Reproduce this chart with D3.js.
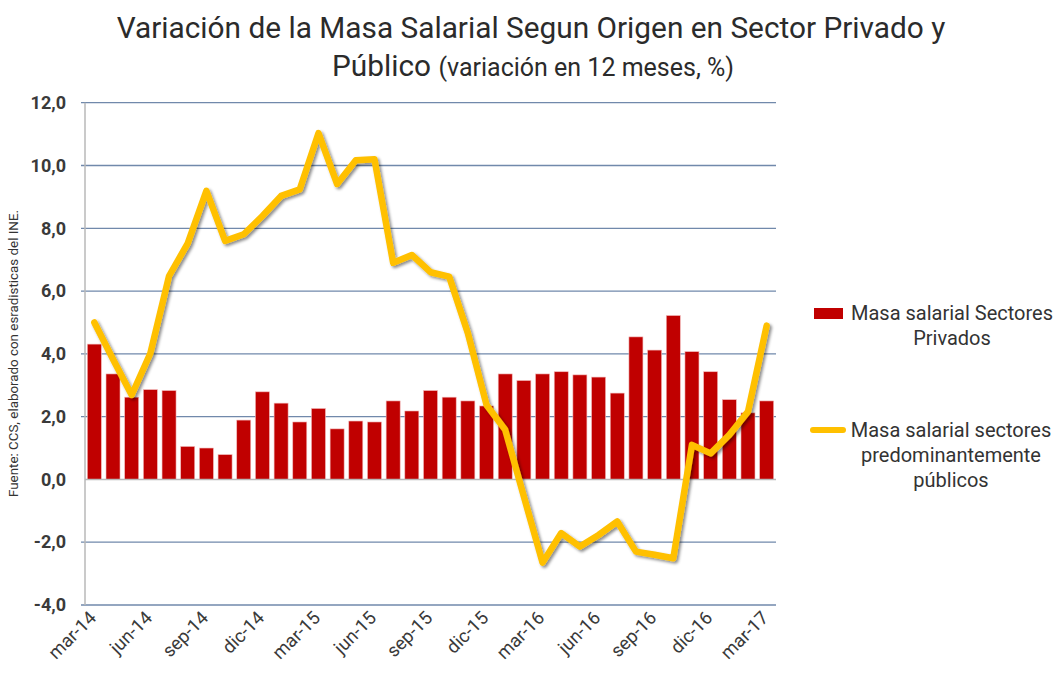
<!DOCTYPE html>
<html lang="es">
<head>
<meta charset="UTF-8">
<title>Variación de la Masa Salarial</title>
<script src="https://d3js.org/d3.v7.min.js"></script>
<style>
  html, body { margin: 0; padding: 0; background: #fff; }
  svg { display: block; font-family: Roboto, "DejaVu Sans", sans-serif; }
  .grid line { stroke: #7189ab; stroke-width: 1.3; }
  .ylab { font-size: 18px; font-weight: 700; fill: #3a3a3a; }
  .xlab { font-size: 18.5px; fill: #3a3a3a; }
  .legend text { font-size: 20px; fill: #333; }
</style>
</head>
<body>
<svg id="chart" width="1062" height="683"></svg>
<script>
// --- data ---
const months = ["mar-14","abr-14","may-14","jun-14","jul-14","ago-14","sep-14","oct-14","nov-14","dic-14",
  "ene-15","feb-15","mar-15","abr-15","may-15","jun-15","jul-15","ago-15","sep-15","oct-15","nov-15","dic-15",
  "ene-16","feb-16","mar-16","abr-16","may-16","jun-16","jul-16","ago-16","sep-16","oct-16","nov-16","dic-16",
  "ene-17","feb-17","mar-17"];
const privados = [4.31, 3.36, 2.62, 2.86, 2.83, 1.05, 1.0, 0.79, 1.89, 2.79,
  2.43, 1.83, 2.26, 1.61, 1.86, 1.83, 2.5, 2.18, 2.83, 2.62,
  2.5, 2.34, 3.36, 3.15, 3.36, 3.43, 3.33, 3.26, 2.75, 4.54,
  4.12, 5.22, 4.07, 3.43, 2.54, 2.12, 2.5];
const publicos = [5.0, 3.83, 2.69, 4.02, 6.48, 7.52, 9.19, 7.6, 7.81, 8.39,
  9.03, 9.24, 11.03, 9.41, 10.17, 10.2, 6.9, 7.15, 6.6, 6.46,
  4.66, 2.37, 1.58, -0.55, -2.65, -1.71, -2.14, -1.77, -1.34, -2.3,
  -2.4, -2.51, 1.1, 0.83, 1.42, 2.16, 4.9];
const yTicks = [-4, -2, 0, 2, 4, 6, 8, 10, 12];
const xTickLabels = ["mar-14","jun-14","sep-14","dic-14","mar-15","jun-15","sep-15","dic-15","mar-16","jun-16","sep-16","dic-16","mar-17"];
const seriesNames = [["Masa salarial Sectores", "Privados"], ["Masa salarial sectores", "predominantemente", "públicos"]];

const svg = d3.select("#chart");
const plotLeft = 85, plotRight = 776, plotTop = 102.7, plotBottom = 605;

const x = d3.scaleBand().domain(months).range([plotLeft, plotRight]).paddingInner(0.25).paddingOuter(0.125);
const y = d3.scaleLinear().domain([-4, 12]).range([plotBottom, plotTop]);
const fmt = d => d.toFixed(1).replace(".", ",");

// shadow for the line
const defs = svg.append("defs");
defs.append("filter").attr("id", "shadow").attr("x", "-10%").attr("y", "-10%").attr("width", "130%").attr("height", "130%")
  .append("feDropShadow").attr("dx", 2).attr("dy", 2).attr("stdDeviation", 1.8)
  .attr("flood-color", "#000").attr("flood-opacity", 0.45);

// title
const t1 = svg.append("text").attr("x", 531).attr("y", 38).attr("text-anchor", "middle").attr("fill", "#2b2b2b");
t1.append("tspan").attr("font-size", 29.8)
  .text("Variación de la Masa Salarial Segun Origen en Sector Privado y");
const t2 = svg.append("text").attr("x", 533).attr("y", 76).attr("text-anchor", "middle").attr("fill", "#2b2b2b");
t2.append("tspan").attr("font-size", 29.8).text("Público ");
t2.append("tspan").attr("font-size", 25).text("(variación en 12 meses, %)");

// grid
svg.append("g").attr("class", "grid")
  .selectAll("line").data(yTicks.filter(d => d !== 0)).join("line")
  .attr("x1", plotLeft - 4).attr("x2", plotRight).attr("y1", d => y(d)).attr("y2", d => y(d));

// y axis
const yAxis = svg.append("g").attr("transform", `translate(${plotLeft},0)`)
  .call(d3.axisLeft(y).tickValues(yTicks).tickSize(0).tickPadding(19).tickFormat(fmt));
yAxis.select(".domain").remove();
yAxis.selectAll("text").attr("class", "ylab");
yAxis.attr("font-family", null).attr("font-size", null);

// bars
svg.append("g").selectAll("rect").data(privados).join("rect")
  .attr("x", (d, i) => x(months[i]))
  .attr("width", x.bandwidth())
  .attr("y", d => y(Math.max(0, d)))
  .attr("height", d => Math.abs(y(d) - y(0)))
  .attr("fill", "#c00000")
  .attr("stroke", "#f2b8b8").attr("stroke-width", 0.6);

// vertical axis line and zero line
svg.append("line").attr("x1", plotLeft).attr("x2", plotLeft).attr("y1", plotTop).attr("y2", plotBottom)
  .attr("stroke", "#b8b8b8").attr("stroke-width", 1.5);
svg.append("line").attr("x1", plotLeft).attr("x2", plotRight).attr("y1", y(0)).attr("y2", y(0))
  .attr("stroke", "#b8b8b8").attr("stroke-width", 1.5);

// line
const line = d3.line()
  .x((d, i) => x(months[i]) + x.bandwidth() / 2)
  .y(d => y(d));
svg.append("path").datum(publicos)
  .attr("d", line)
  .attr("fill", "none")
  .attr("stroke", "#ffc000")
  .attr("stroke-width", 6.5)
  .attr("stroke-linejoin", "round")
  .attr("stroke-linecap", "round")
  .attr("filter", "url(#shadow)");

// x labels
svg.append("g").selectAll("text").data(xTickLabels).join("text")
  .attr("class", "xlab")
  .attr("text-anchor", "end")
  .attr("transform", d => `translate(${x(d) + x.bandwidth() / 2 + 3},${plotBottom + 14}) rotate(-45)`)
  .text(d => d);

// legend
const lg = svg.append("g").attr("class", "legend");
lg.append("rect").attr("x", 814).attr("y", 308).attr("width", 29).attr("height", 11).attr("fill", "#c00000");
const l1 = lg.append("text").attr("text-anchor", "middle");
seriesNames[0].forEach((s, i) => l1.append("tspan").attr("x", 952).attr("y", 320 + i * 25).text(s));
lg.append("line").attr("x1", 813).attr("x2", 843).attr("y1", 430).attr("y2", 430)
  .attr("stroke", "#ffc000").attr("stroke-width", 6).attr("stroke-linecap", "round");
const l2 = lg.append("text").attr("text-anchor", "middle");
seriesNames[1].forEach((s, i) => l2.append("tspan").attr("x", 951).attr("y", 437 + i * 25).text(s));

// source
svg.append("text")
  .attr("transform", "translate(18,497) rotate(-90)")
  .attr("font-size", 12).attr("fill", "#333")
  .attr("textLength", 287).attr("lengthAdjust", "spacingAndGlyphs")
  .text("Fuente: CCS, elaborado con esradisticas del INE.");
</script>
</body>
</html>
